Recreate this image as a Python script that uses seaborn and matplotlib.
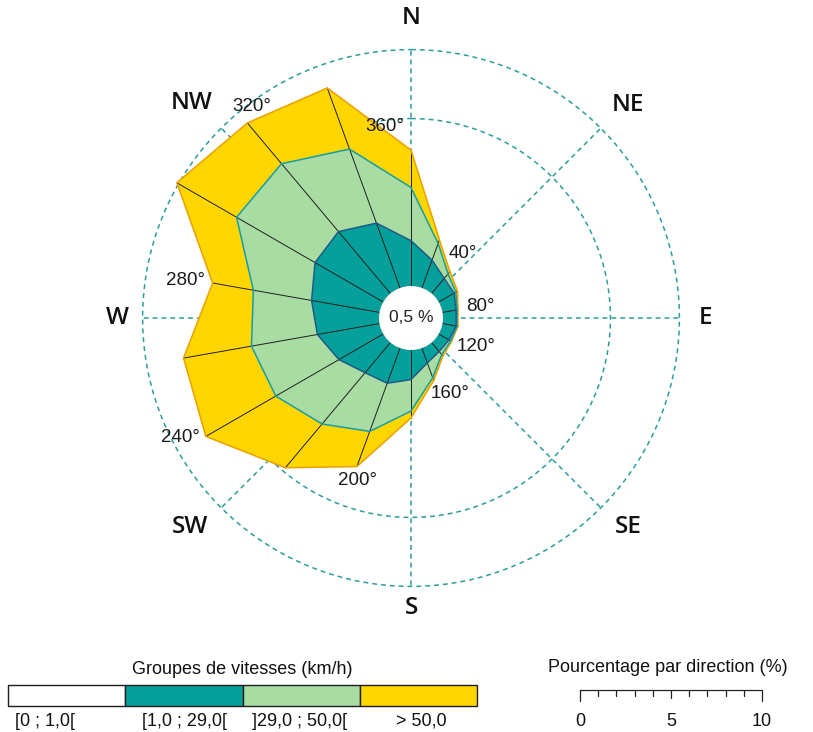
import numpy as np
import matplotlib
matplotlib.use("Agg")
import matplotlib.pyplot as plt
from matplotlib.patches import Rectangle, Circle
import seaborn as sns

# Wind directions (degrees clockwise from north) and frequency of each speed class (%)
directions = [0, 20, 40, 60, 80, 100, 120, 140, 160, 180, 200, 220, 240, 260, 280, 300, 320, 340]
speed_1_29 = [2.3, 1.5, 1.0, 0.9, 0.7, 0.7, 0.6, 0.6, 0.8, 1.5, 1.9, 2.0, 2.6, 3.2, 3.5, 4.0, 4.1, 3.5]
speed_29_50 = [2.7, 0.9, 0.3, 0.1, 0.05, 0.05, 0.1, 0.2, 0.8, 1.6, 2.6, 3.4, 3.7, 3.4, 3.0, 4.6, 4.5, 4.0]
speed_50_plus = [1.9, 0.2, 0.15, 0.1, 0.05, 0.05, 0.05, 0.1, 0.15, 0.35, 1.9, 2.9, 4.1, 3.5, 2.1, 3.5, 2.7, 3.3]
calm_pct = 0.5

degree_labels = ["360°", "40°", "80°", "120°", "160°", "200°", "240°", "280°", "320°"]
compass_labels = ["N", "NE", "E", "SE", "S", "SW", "W", "NW"]
class_labels = ["[0 ; 1,0[", "[1,0 ; 29,0[", "]29,0 ; 50,0[", "> 50,0"]
grid_rings = [8.5, 12.0]
scale_ticks = [0, 5, 10]

TEAL = "#06a09c"
GREEN = "#a9dca2"
YELLOW = "#ffd600"
TEAL_EDGE = "#1d5a86"
GREEN_EDGE = "#159ea6"
YELLOW_EDGE = "#eba000"
GRID = "#2a9e9b"

sns.set_theme(style="white")
plt.rcParams["font.family"] = ["Liberation Sans", "DejaVu Sans"]

W, H = 813, 732
fig = plt.figure(figsize=(W / 100, H / 100), dpi=100)
fig.patch.set_facecolor("white")

# polar rose: centre (cx, cy) in pixels, axes radius R pixels
cx, cy, R = 411, 318, 300
px_per_pct = 19.7
calm_radius_px = 32
rmax = R / px_per_pct - calm_radius_px / px_per_pct

ax = fig.add_axes([(cx - R) / W, (H - cy - R) / H, 2 * R / W, 2 * R / H], projection="polar")
ax.set_theta_zero_location("N")
ax.set_theta_direction(-1)
ax.set_ylim(0, rmax)
ax.set_rorigin(-calm_radius_px / px_per_pct)
ax.grid(False)
ax.set_xticks([])
ax.set_yticks([])
for sp in ax.spines.values():
    sp.set_visible(False)
ax.set_facecolor("none")

# dashed reference rings and compass rays
dash = (0, (3.2, 2.6))
tt = np.linspace(0, 2 * np.pi, 721)
for rr in grid_rings:
    ax.plot(tt, np.full_like(tt, rr), ls=dash, color=GRID, lw=1.1, zorder=1)
for d in range(0, 360, 45):
    ax.plot([np.deg2rad(d)] * 2, [0, grid_rings[-1]], ls=dash, color=GRID, lw=1.1, zorder=1)

# stacked speed classes
theta = np.deg2rad(directions + [360])
c1 = np.array(speed_1_29)
c2 = c1 + np.array(speed_29_50)
c3 = c2 + np.array(speed_50_plus)


def closed(a):
    return np.append(a, a[0])


ax.fill(theta, closed(c3), color=YELLOW, lw=0, zorder=2)
ax.fill(theta, closed(c2), color=GREEN, lw=0, zorder=3)
ax.fill(theta, closed(c1), color=TEAL, lw=0, zorder=4)

for t, top in zip(np.deg2rad(directions), c3):
    ax.plot([t, t], [0, top], color="#1e1e1e", lw=0.7, zorder=5)

sns.lineplot(x=theta, y=closed(c3), sort=False, estimator=None, color=YELLOW_EDGE, lw=1.1, ax=ax, zorder=6)
sns.lineplot(x=theta, y=closed(c2), sort=False, estimator=None, color=GREEN_EDGE, lw=1.1, ax=ax, zorder=6)
sns.lineplot(x=theta, y=closed(c1), sort=False, estimator=None, color=TEAL_EDGE, lw=1.1, ax=ax, zorder=6)
ax.set_xlabel("")
ax.set_ylabel("")

# direction labels around the rose
degree_pos = [(352.3, 8.16), (38.7, 2.60), (80.9, 1.92), (114.0, 1.99), (152.5, 2.67),
              (198.3, 7.09), (242.7, 11.57), (279.5, 10.0), (323.0, 11.79)]
for lab, (a, r) in zip(degree_labels, degree_pos):
    ax.text(np.deg2rad(a), r, lab, ha="center", va="center", fontsize=13.5,
            color="#1a1a1a", zorder=8)

compass_pos = [(0, 13.6), (45.5, 13.81), (90, 13.3), (133.9, 13.66),
               (180, 13.1), (226.6, 13.81), (270, 13.3), (314.5, 13.96)]
for lab, (a, r) in zip(compass_labels, compass_pos):
    ax.text(np.deg2rad(a), r, lab, ha="center", va="center", fontsize=17.5,
            family=["Open Sans", "Liberation Sans"], fontweight="semibold",
            color="#111111", zorder=8)

# overlay in pixel coordinates: calm disc and legends
lg = fig.add_axes([0, 0, 1, 1])
lg.set_xlim(0, W)
lg.set_ylim(H, 0)
lg.axis("off")

lg.add_patch(Circle((cx, cy), calm_radius_px, facecolor="white", edgecolor="none", zorder=3))
calm_text = f"{calm_pct:.1f}".replace(".", ",") + " %"
lg.text(cx, cy, calm_text, ha="center", va="center", fontsize=12.5, color="#222222", zorder=4)

lg.text(242, 669, "Groupes de vitesses (km/h)", ha="center", va="center", fontsize=13, color="#111111")
edges = np.linspace(8, 477, 5)
box_colors = ["white", TEAL, GREEN, YELLOW]
for x0, x1, col in zip(edges[:-1], edges[1:], box_colors):
    lg.add_patch(Rectangle((x0, 685), x1 - x0, 21, facecolor=col, edgecolor="#1e1e1e", lw=1.0))
label_x = [45, 184, 300, 421]
for lab, x in zip(class_labels, label_x):
    lg.text(x, 721, lab, ha="center", va="center", fontsize=13, color="#111111")

lg.text(668, 668, "Pourcentage par direction (%)", ha="center", va="center", fontsize=13, color="#111111")
sx0, sx1, sy = 580, 762, 690
lg.plot([sx0, sx1], [sy, sy], color="#222222", lw=0.9)
for i in range(11):
    x = sx0 + (sx1 - sx0) * i / 10
    length = 11 if i in (0, 10) else (8 if i == 5 else 6)
    lg.plot([x, x], [sy, sy + length], color="#222222", lw=0.9)
for v in scale_ticks:
    lg.text(sx0 + (sx1 - sx0) * v / 10, 721, str(v), ha="center", va="center", fontsize=13, color="#111111")

fig.savefig("out.png", dpi=100, facecolor="white")
